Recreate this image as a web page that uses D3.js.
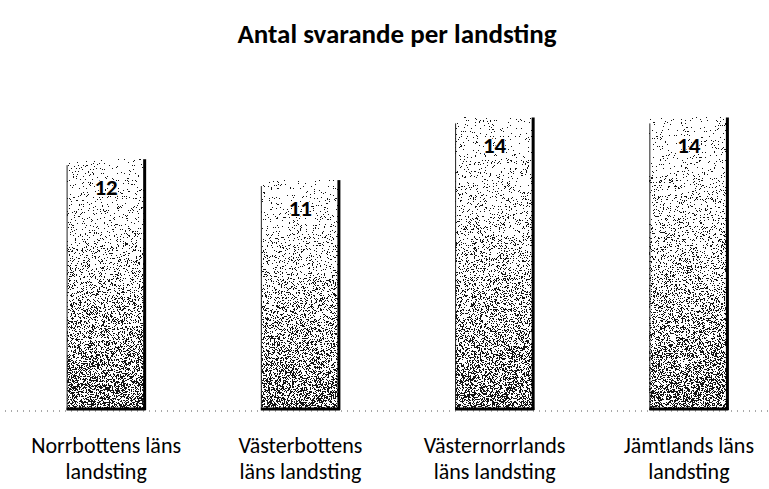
<!DOCTYPE html>
<html><head><meta charset="utf-8">
<script src="https://cdn.jsdelivr.net/npm/d3@7"></script>
<style>body{margin:0;background:#fff}svg{display:block}</style>
</head><body>
<svg id="c" width="769" height="489"></svg>
<script>
const categories = [["Norrbottens läns","landsting"],["Västerbottens","läns landsting"],["Västernorrlands","läns landsting"],["Jämtlands läns","landsting"]];
const values = [12, 11, 14, 14];
const title = "Antal svarande per landsting";

const svg = d3.select("#c");
const font = "Carlito, Calibri, Lato, 'Open Sans', sans-serif";
const x = d3.scaleBand().domain(d3.range(categories.length)).range([9, 786]).paddingInner(0.593).paddingOuter(0.2965);
const y = d3.scaleLinear().domain([0, 16]).range([410, 75.6]);

// deterministic stipple texture (decoration only)
function hash(a, b) {
  let n = Math.imul(a, 374761393) + Math.imul(b, 668265263);
  n = Math.imul(n ^ (n >>> 13), 1274126177);
  n = n ^ (n >>> 16);
  return (n >>> 0) / 4294967296;
}
function stipple(w, h, seed) {
  const cv = document.createElement("canvas");
  cv.width = w; cv.height = h;
  const ctx = cv.getContext("2d");
  const img = ctx.createImageData(w, h);
  for (let j = 0; j < h; j++) {
    const t = j / h;
    const p = 0.05 + 0.47 * Math.pow(t, 1.6);
    for (let i = 0; i < w; i++) {
      const k = (j * w + i) * 4;
      const black = hash(i + seed * 131, j + seed * 977) < p;
      img.data[k] = img.data[k+1] = img.data[k+2] = black ? 20 : 255;
      img.data[k+3] = 255;
    }
  }
  ctx.putImageData(img, 0, 0);
  return cv.toDataURL();
}

// baseline
svg.append("line").attr("x1",5).attr("x2",769).attr("y1",y(0)+1).attr("y2",y(0)+1)
  .attr("stroke","#555").attr("stroke-width",1).attr("stroke-dasharray","1 5");

const bars = svg.selectAll(".bar").data(values).join("g").attr("class","bar");
bars.append("image")
  .attr("x",(d,i)=>Math.round(x(i))).attr("y",d=>Math.round(y(d)))
  .attr("width",Math.round(x.bandwidth())).attr("height",d=>Math.round(y(0))-Math.round(y(d)))
  .attr("preserveAspectRatio","none").style("image-rendering","pixelated")
  .attr("href",(d,i)=>stipple(Math.round(x.bandwidth()), Math.round(y(0))-Math.round(y(d)), i+1));
bars.append("line").attr("x1",(d,i)=>x(i)+x.bandwidth()-1).attr("x2",(d,i)=>x(i)+x.bandwidth()-1)
  .attr("y1",d=>y(d)).attr("y2",y(0)).attr("stroke","#000").attr("stroke-width",3);
bars.append("line").attr("x1",(d,i)=>x(i)+0.5).attr("x2",(d,i)=>x(i)+0.5)
  .attr("y1",d=>y(d)+6).attr("y2",y(0)).attr("stroke","#222").attr("stroke-width",1);
bars.append("line").attr("x1",(d,i)=>x(i)).attr("x2",(d,i)=>x(i)+x.bandwidth())
  .attr("y1",y(0)-1).attr("y2",y(0)-1).attr("stroke","#000").attr("stroke-width",3);
bars.append("text").attr("x",(d,i)=>x(i)+x.bandwidth()/2).attr("y",d=>y(d)+36)
  .attr("text-anchor","middle").attr("font-family",font).attr("font-weight",900)
  .attr("font-size",23).attr("fill","#000")
  .attr("stroke","#fff").attr("stroke-width",2).attr("paint-order","stroke").text(d=>d);

// category labels
const lab = svg.selectAll(".lab").data(categories).join("text").attr("class","lab")
  .attr("text-anchor","middle").attr("font-family",font).attr("font-size",22).attr("fill","#000");
lab.each(function(lines,i){
  const t = d3.select(this);
  lines.forEach((s,k)=>t.append("tspan").attr("x",x(i)+x.bandwidth()/2).attr("y",453+k*26).text(s));
});

svg.append("text").attr("x",397).attr("y",43).attr("text-anchor","middle")
  .attr("font-family",font).attr("font-weight","bold").attr("font-size",27).attr("fill","#000").text(title);
</script>
</body></html>
